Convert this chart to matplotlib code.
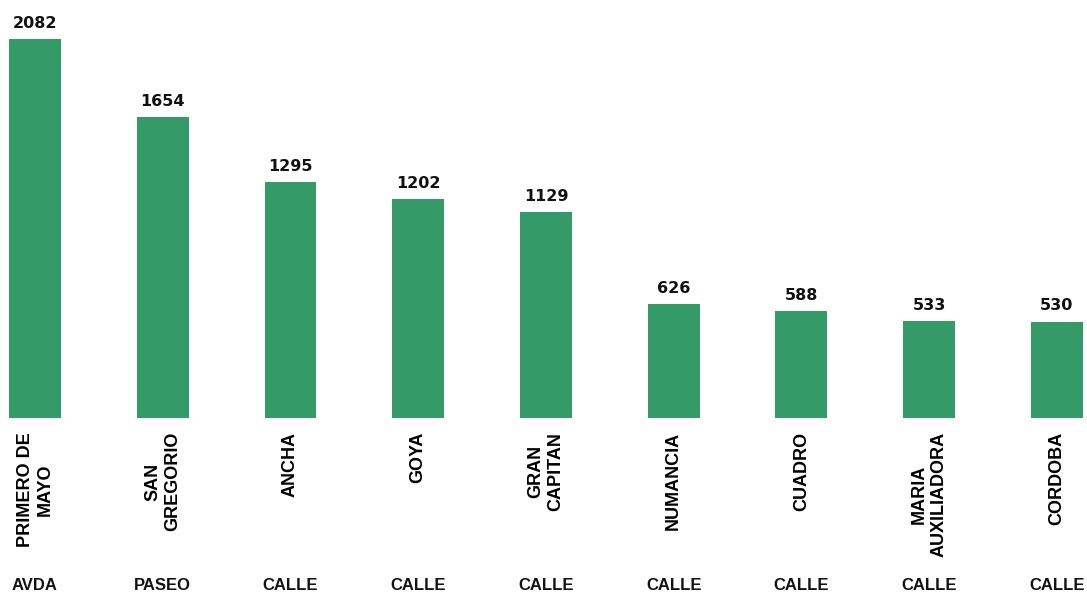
import numpy as np
import matplotlib.pyplot as plt
import matplotlib.transforms as mtransforms

plt.rcParams['font.family'] = ['Liberation Sans', 'DejaVu Sans']

# datos
calles = ["PRIMERO DE\nMAYO", "SAN\nGREGORIO", "ANCHA", "GOYA", "GRAN\nCAPITAN",
          "NUMANCIA", "CUADRO", "MARIA\nAUXILIADORA", "CORDOBA"]
tipos = ["AVDA", "PASEO", "CALLE", "CALLE", "CALLE", "CALLE", "CALLE", "CALLE", "CALLE"]
valores = [2082, 1654, 1295, 1202, 1129, 626, 588, 533, 530]

color_barra = '#349a68'

fig = plt.figure(figsize=(10.87, 5.93), dpi=100)
ax = fig.add_axes([0, 175/593, 1, 418/593])

x = np.arange(len(valores))
barras = ax.bar(x, valores, width=0.407, color=color_barra)

# etiquetas de valor
for xi, v in zip(x, valores):
    ax.annotate(str(v), (xi, v), xytext=(0, 6), textcoords='offset points',
                ha='center', va='bottom', fontsize=11.5, fontweight='bold',
                color='#111111', family='DejaVu Sans')

ax.set_xlim(-0.274, 8.235)
ax.set_ylim(0, 2296)
ax.set_xticks(x)
ax.set_xticklabels(calles, rotation=90, fontsize=13, fontweight='bold',
                   ha='center', va='top', multialignment='center')
ax.tick_params(axis='x', length=0, pad=10)
ax.set_yticks([])
for s in ax.spines.values():
    s.set_visible(False)

trans = mtransforms.blended_transform_factory(ax.transData, fig.transFigure)
for xi, t in zip(x, tipos):
    ax.text(xi, 8/593, t, transform=trans, ha='center', va='center',
            fontsize=12, fontweight='bold', color='#111111')

fig.savefig('out.png', dpi=100)
